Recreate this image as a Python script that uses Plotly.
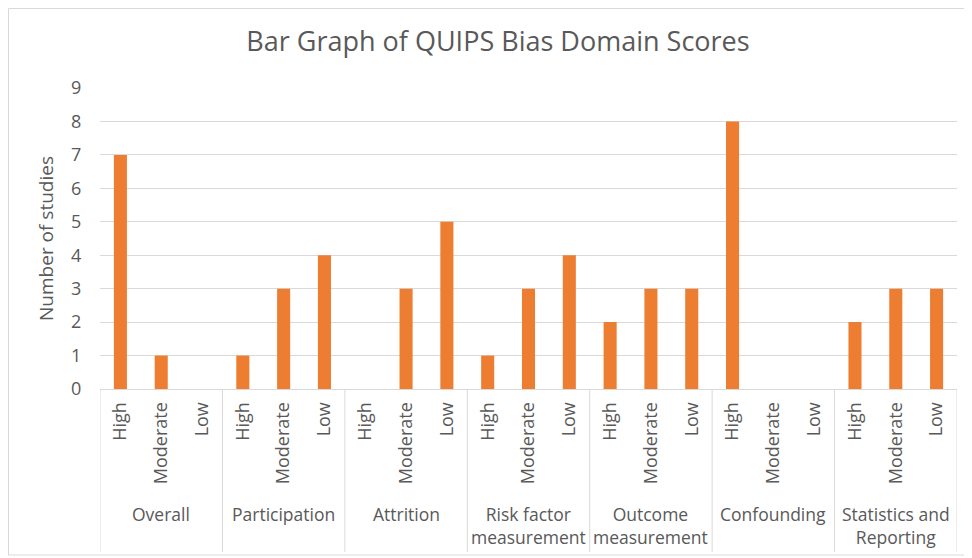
import plotly.graph_objects as go

domains = ["Overall", "Participation", "Attrition", "Risk factor<br>measurement",
           "Outcome<br>measurement", "Confounding", "Statistics and<br>Reporting"]
levels = ["High", "Moderate", "Low"]
overall = [7, 1, 0]
participation = [1, 3, 4]
attrition = [0, 3, 5]
risk_factor = [1, 3, 4]
outcome = [2, 3, 3]
confounding = [8, 0, 0]
statistics = [2, 3, 3]
series = [overall, participation, attrition, risk_factor, outcome, confounding, statistics]
y_ticks = list(range(0, 10))

# page body adds an 8px offset; figure coordinates below are screen - 8
W, H = 972, 558
ml, mr, mt, mb = 92, 23, 80, 177
pw, ph = W - ml - mr, H - mt - mb
bottom = mt + ph

xs, ys, ticktext = [], [], []
for gi, vals in enumerate(series):
    for li, v in enumerate(vals):
        xs.append(gi * len(levels) + li)
        ys.append(v)
        ticktext.append(levels[li])

grey = "#595959"
fig = go.Figure(go.Bar(x=xs, y=ys, width=0.32, marker=dict(color="#ED7D31", line=dict(width=0)),
                       showlegend=False))

shapes = []
n = len(xs)
for k in range(len(domains) + 1):
    xb = k * len(levels) - 0.5
    shapes.append(dict(type="line", xref="x", yref="paper", x0=xb, x1=xb, y0=0,
                       y1=-(544 - bottom) / ph, line=dict(color="#D9D9D9", width=1)))
# outer chart border
shapes.append(dict(type="rect", xref="paper", yref="paper",
                   x0=(0.5 - ml) / pw, x1=(962 - ml) / pw,
                   y0=-(547 - bottom) / ph, y1=1 + (mt - 0.5) / ph,
                   line=dict(color="#D9D9D9", width=1), fillcolor="rgba(0,0,0,0)", layer="below"))

annotations = []
for gi, d in enumerate(domains):
    annotations.append(dict(x=gi * len(levels) + 1, xref="x", y=-(492 - bottom) / ph, yref="paper",
                            text=d, showarrow=False, yanchor="top", xanchor="center",
                            font=dict(family="Open Sans", size=17.5, color=grey)))

fig.update_layout(
    width=W, height=H,
    margin=dict(l=ml, r=mr, t=mt, b=mb, autoexpand=False),
    paper_bgcolor="white", plot_bgcolor="white",
    title=dict(text="Bar Graph of QUIPS Bias Domain Scores", x=490 / W, xref="container",
               xanchor="center", y=1 - 34 / H, yanchor="middle",
               font=dict(family="Open Sans", size=27, color=grey)),
    font=dict(family="Open Sans", color=grey),
    xaxis=dict(range=[-0.5, n - 0.5], tickmode="array", tickvals=xs, ticktext=ticktext,
               tickangle=-90, tickfont=dict(size=18, color=grey), showgrid=False,
               showline=True, linecolor="#D9D9D9", linewidth=1, ticks="", zeroline=False,
               fixedrange=True, automargin=False, ticklabelstandoff=5),
    yaxis=dict(range=[0, 9], tickmode="array", tickvals=y_ticks, showgrid=True,
               gridcolor="#D9D9D9", gridwidth=1, zeroline=False, showline=False,
               tickfont=dict(size=18, color=grey), ticks="outside", ticklen=14,
               tickcolor="rgba(0,0,0,0)", automargin=False,
               title=dict(text="Number of studies", font=dict(size=19, color=grey), standoff=12)),
    shapes=shapes, annotations=annotations, bargap=0.68,
)
fig.write_html("out.html")
